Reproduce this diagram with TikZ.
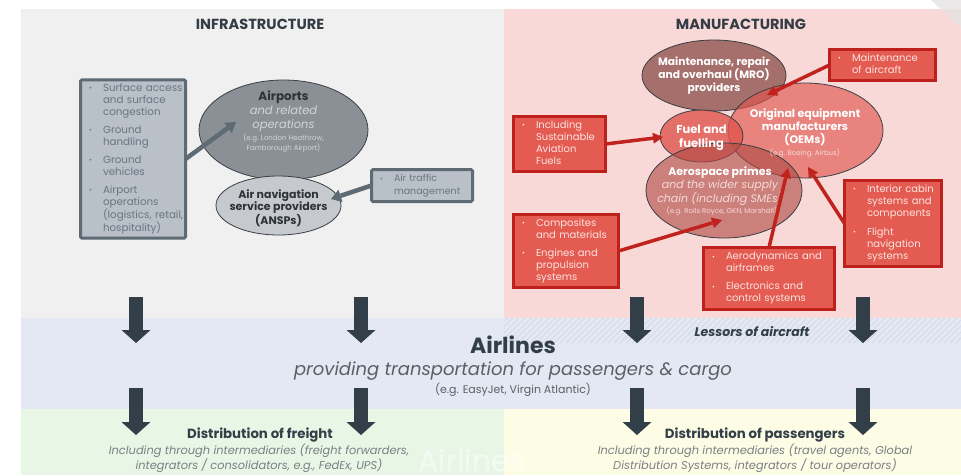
\documentclass[tikz,border=0pt]{standalone}
\usepackage{fontspec}
\setmainfont{Poppins}
\usetikzlibrary{arrows.meta,shapes.geometric}
\definecolor{leftbg}{HTML}{F0F0F0}
\definecolor{pinkbg}{HTML}{F8D9D8}
\definecolor{airbg}{HTML}{E4E8F3}
\definecolor{hatchc}{HTML}{D3D8EC}
\definecolor{greenbg}{HTML}{E8F6E6}
\definecolor{yellowbg}{HTML}{FDFDE6}
\definecolor{darkblue}{HTML}{323E48}
\definecolor{titlec}{HTML}{343D45}
\definecolor{gfill}{HTML}{B9C0C8}
\definecolor{gborder}{HTML}{5E6A74}
\definecolor{gtext}{HTML}{6B7580}
\definecolor{apfill}{HTML}{8A9096}
\definecolor{ansfill}{HTML}{C6CACF}
\definecolor{ellborder}{HTML}{3A3F44}
\definecolor{rfill}{HTML}{E35B51}
\definecolor{rborder}{HTML}{BE201B}
\definecolor{rtext}{HTML}{FCE4E1}
\definecolor{rarrowc}{HTML}{C0231D}
\definecolor{mrofill}{HTML}{A56F6B}
\definecolor{oemfill}{HTML}{E0554E}
\definecolor{primefill}{HTML}{B04A45}
\definecolor{subgray}{HTML}{5A6066}
\definecolor{distgray}{HTML}{7A7F84}
\definecolor{darktext}{HTML}{2E3338}
\definecolor{aplight}{HTML}{D3D6D9}
\definecolor{pinklight}{HTML}{F5DAD8}
\definecolor{cornergray}{HTML}{E6E3E4}
\newcommand\fs[2]{\fontsize{#1}{#2}\selectfont}
\newcommand\bu{\makebox[14pt][l]{\raisebox{0.6pt}{\fontsize{7}{7}\selectfont\textbullet}}}
\begin{document}
\begin{tikzpicture}[x=1pt,y=-1pt,
  every node/.style={inner sep=0pt, outer sep=0pt},
  gbox/.style={draw=gborder, line width=3pt, fill=gfill, text=gtext, inner xsep=8.5pt, inner ysep=3pt, rounded corners=1.5pt, font=\fs{10.3}{12}, align=left},
  rbox/.style={draw=rborder, line width=3pt, fill=rfill, text=rtext, inner xsep=8.5pt, inner ysep=3pt, font=\fs{10}{12}, align=left},
  ell/.style={ellipse, draw=ellborder, line width=0.8pt},
  garrow/.style={draw=gborder, line width=4.5pt, -{Triangle[length=10pt,width=13pt,line width=0pt]}},
  rarrow/.style={draw=rarrowc, line width=3.5pt, -{Triangle[length=10pt,width=11pt,line width=0pt]}},
  blockarr/.style={draw=darkblue, line width=14pt, -{Triangle[length=13pt,width=29pt,line width=0pt]}},
  titlestyle/.style={text=titlec, font=\fs{14.6}{16}\bfseries}
]
\useasboundingbox (0,0) rectangle (961,475);
% backgrounds
\fill[white] (0,0) rectangle (961,475);
\fill[leftbg] (21,9) rectangle (504,318);
\fill[pinkbg] (504,9) rectangle (961,318);
\fill[cornergray, opacity=0.8] (931,0) -- (961,0) -- (961,28) -- cycle;
\fill[airbg] (21,318) rectangle (961,409);
\begin{scope}
  \clip (504,318) rectangle (961,343);
  \foreach \x in {470,476,...,970} \draw[hatchc, line width=1pt] (\x,343) -- (\x+25,318);
\end{scope}
\fill[greenbg] (21,409) rectangle (504,475);
\fill[yellowbg] (504,409) rectangle (961,475);
\node[text=white, text opacity=0.55, font=\fs{30}{30}, anchor=base] (wm) at (472,471) {Airlines};

% titles
\node[titlestyle] (infra) at (260,24) {INFRASTRUCTURE};
\node[titlestyle] (manu) at (741,24) {MANUFACTURING};

% ellipses
\node[ell, fill=apfill, minimum width=169pt, minimum height=100pt] (airports) at (283.5,130) {};
\node[ell, fill=ansfill, minimum width=125pt, minimum height=59pt] (ansp) at (278.5,205.5) {};
\node[ell, fill=mrofill, minimum width=144pt, minimum height=71pt] (mro) at (714,75.5) {};
\node[ell, fill=oemfill, fill opacity=0.65, minimum width=155pt, minimum height=95pt] (oem) at (805.5,130.5) {};
\node[ell, fill=oemfill, fill opacity=0.8, minimum width=83pt, minimum height=52pt] (fuel) at (701.5,136) {};
\node[ell, fill=primefill, fill opacity=0.62, minimum width=156pt, minimum height=95pt] (primes) at (724,190.5) {};

% ellipse texts
\node[text=darktext, font=\fs{12}{14}\bfseries] (apA) at (283.5,97) {Airports};
\node[text=aplight, font=\fs{11.5}{14}\itshape, align=center] (apB) at (283.5,119) {and related\\operations};
\node[text=aplight, font=\fs{7}{8.3}, align=center] (apC) at (283.5,143) {(e.g. London Heathrow,\\Farnborough Airport)};
\node[text=darktext, font=\fs{11}{12.5}\bfseries, align=center] (anspT) at (278.5,208) {Air navigation\\service providers\\(ANSPs)};
\node[text=white, font=\fs{10.7}{13}\bfseries, align=center] (mroT) at (714,76) {Maintenance, repair\\and overhaul (MRO)\\providers};
\node[text=white, font=\fs{11}{13}\bfseries, align=center] (oemT) at (805,127) {Original equipment\\manufacturers\\(OEMs)};
\node[text=pinklight, font=\fs{7}{8}] (oemE) at (805,153) {(e.g. Boeing, Airbus)};
\node[text=white, font=\fs{11.5}{14}\bfseries, align=center] (fuelT) at (701.5,138) {Fuel and\\fuelling};
\node[text=white, font=\fs{11}{13}\bfseries] (prA) at (720,173) {Aerospace primes};
\node[text=pinklight, font=\fs{11}{12.5}\itshape, align=center] (prB) at (720,193) {and the wider supply\\chain (including SMEs)};
\node[text=pinklight, font=\fs{7}{8}] (prC) at (722,211) {(e.g. Rolls Royce, GKN, Marshall)};

% gray boxes
\node[gbox, text width=88pt, minimum height=156pt] (lbox) at (133,159) {\begin{tabular}{@{}l@{}l@{}}
\bu & Surface access\\ & and surface\\ & congestion\\[6pt]
\bu & Ground\\ & handling\\[6pt]
\bu & Ground\\ & vehicles\\[6pt]
\bu & Airport\\ & operations\\ & (logistics, retail,\\ & hospitality)
\end{tabular}};
\node[gbox, text width=84pt, minimum height=32pt, font=\fs{9.5}{13}] (atm) at (422,185.5) {\begin{tabular}{@{}l@{}l@{}}
\bu & Air traffic\\ & management
\end{tabular}};

% red boxes
\node[rbox, text width=89pt, minimum height=31pt] (maint) at (882.5,65) {\begin{tabular}{@{}l@{}l@{}}
\bu & Maintenance\\ & of aircraft
\end{tabular}};
\node[rbox, text width=75pt, minimum height=55pt] (saf) at (559.5,144) {\begin{tabular}{@{}l@{}l@{}}
\bu & Including\\ & Sustainable\\ & Aviation\\ & Fuels
\end{tabular}};
\node[rbox, text width=88pt, minimum height=73pt] (comp) at (566,251) {\begin{tabular}{@{}l@{}l@{}}
\bu & Composites\\ & and materials\\[6pt]
\bu & Engines and\\ & propulsion\\ & systems
\end{tabular}};
\node[rbox, text width=114pt, minimum height=62pt] (aero) at (769,278.5) {\begin{tabular}{@{}l@{}l@{}}
\bu & Aerodynamics and\\ & airframes\\[6pt]
\bu & Electronics and\\ & control systems
\end{tabular}};
\node[rbox, text width=80pt, minimum height=86pt] (cabin) at (893,223.5) {\begin{tabular}{@{}l@{}l@{}}
\bu & Interior cabin\\ & systems and\\ & components\\[7pt]
\bu & Flight\\ & navigation\\ & systems
\end{tabular}};

% arrow tips
\coordinate (apTip) at (236,122);
\coordinate (ansTip) at (331,199);
\coordinate (mTip) at (767,95);
\coordinate (fTip) at (663,137);
\coordinate (cTip) at (722,220);
\coordinate (aTip) at (788,168);
\coordinate (iTip) at (808,167);

\draw[garrow] (lbox.east) -- (apTip);
\draw[garrow] (atm.west) -- (ansTip);
\draw[rarrow] (maint.west) -- (mTip);
\draw[rarrow] (saf.east) -- (fTip);
\draw[rarrow] (comp.east) -- (cTip);
\draw[rarrow] (aero.north) -- (aTip);
\draw[rarrow] (cabin.west) -- (iTip);

% airlines band
\node[text=darkblue, font=\fs{22}{24}\bfseries] (airl) at (513,345) {Airlines};
\node[text=subgray, font=\fs{18}{20}\itshape] (airlS) at (513,371) {providing transportation for passengers \& cargo};
\node[text=subgray, font=\fs{11}{13}] (airlE) at (513,390) {(e.g. EasyJet, Virgin Atlantic)};
\node[text=darkblue, font=\fs{12.5}{15}\bfseries\itshape] (less) at (752,332) {Lessors of aircraft};

% distribution
\node[text=darkblue, font=\fs{13.3}{16}\bfseries] (distF) at (260,435) {Distribution of freight};
\node[text=distgray, font=\fs{11.4}{12.5}\itshape, align=center] (distFS) at (259,458) {Including through intermediaries (freight forwarders,\\integrators / consolidators, e.g., FedEx, UPS)};
\node[text=darkblue, font=\fs{13.3}{16}\bfseries] (distP) at (755,435) {Distribution of passengers};
\node[text=distgray, font=\fs{11.4}{12.5}\itshape, align=center] (distPS) at (755,458) {Including through intermediaries (travel agents, Global\\Distribution Systems, integrators / tour operators)};

% block arrows
\foreach \x [count=\i] in {136,361,637,863} {
  \coordinate (ts\i) at (\x,297);
  \coordinate (te\i) at (\x,343);
  \coordinate (bs\i) at (\x,388);
  \coordinate (be\i) at (\x,435);
  \draw[blockarr] (ts\i) -- (te\i);
  \draw[blockarr] (bs\i) -- (be\i);
}
\end{tikzpicture}
\end{document}
